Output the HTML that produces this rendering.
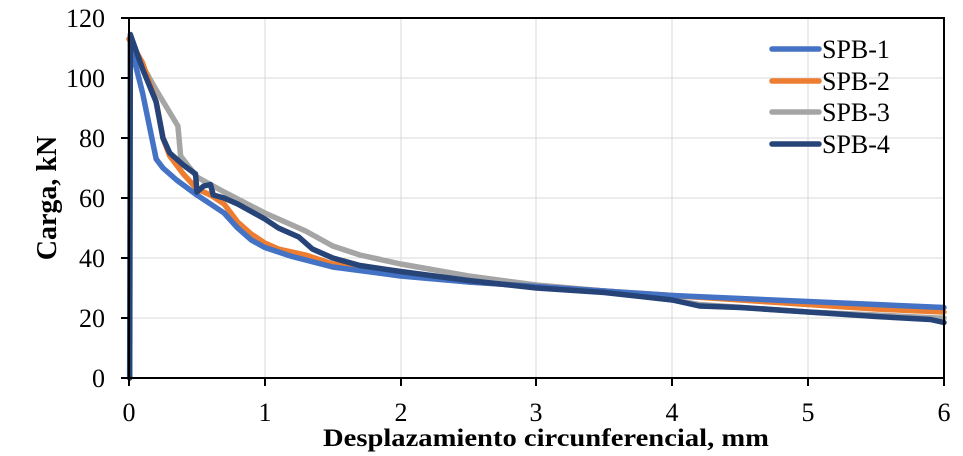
<!DOCTYPE html>
<html><head><meta charset="utf-8"><style>
html,body{margin:0;padding:0;background:#fff;}
svg{display:block;}
text{font-family:"Liberation Serif",serif;fill:#000;}
</style></head><body>
<svg width="963" height="456" viewBox="0 0 963 456" xmlns="http://www.w3.org/2000/svg">
<g stroke="#d9d9d9" stroke-width="1">
<line x1="129" y1="318" x2="944" y2="318"/><line x1="129" y1="258" x2="944" y2="258"/>
<line x1="129" y1="198" x2="944" y2="198"/><line x1="129" y1="138" x2="944" y2="138"/>
<line x1="129" y1="78" x2="944" y2="78"/>
<line x1="265" y1="18" x2="265" y2="378"/><line x1="401" y1="18" x2="401" y2="378"/>
<line x1="536" y1="18" x2="536" y2="378"/><line x1="672" y1="18" x2="672" y2="378"/>
<line x1="808" y1="18" x2="808" y2="378"/>
</g>
<g fill="none" stroke-width="5.5" stroke-linejoin="round" stroke-linecap="round">
<g transform="translate(129,378) scale(135.83,-3)">
<polyline vector-effect="non-scaling-stroke" stroke="#A5A5A5" points="0,113 0.1,104 0.2,96 0.36,84 0.38,74 0.5,67 0.7,62 1,55 1.3,49 1.5,44 1.7,41 2,38 2.5,34 3,31 3.5,29 4,26 4.2,24.5 5,22 5.5,21 5.95,20 6,20"/>
<polyline vector-effect="non-scaling-stroke" stroke="#ED7D31" points="0,113 0.1,105 0.2,92 0.25,80 0.3,74 0.4,68 0.5,63 0.6,61 0.7,58 0.8,52 0.9,48 1,45 1.1,43 1.3,41 1.5,38 2,34.5 2.5,32 3,30.5 3.5,29 4,27.5 4.5,26 5,24.5 5.5,23 6,22"/>
<polyline vector-effect="non-scaling-stroke" stroke="#4472C4" points="0.01,111 0.05,104 0.1,95 0.15,84 0.2,73 0.25,70 0.35,66 0.5,61 0.6,58 0.7,55 0.8,50 0.9,46 1,43.5 1.2,40.5 1.5,37 2,34 2.5,32 3,30.5 3.5,29 4,27.5 4.5,26.5 5,25.5 5.5,24.5 6,23.5"/>
<polyline vector-effect="non-scaling-stroke" stroke="#264478" points="0.005,0 0.01,114.5 0.1,103 0.2,92 0.25,80 0.3,75 0.4,71 0.49,68 0.5,62 0.55,64 0.6,64.5 0.62,61 0.7,60 0.8,58 0.9,55.5 1,53 1.1,50 1.25,47 1.35,43 1.5,40 1.7,37.5 2,35.5 2.5,32.5 3,30 3.5,28.5 4,26 4.2,24 4.5,23.5 5,22 5.5,20.5 5.9,19.5 6,18.5"/>
</g>
</g>
<rect x="129" y="18" width="815" height="360" fill="none" stroke="#000" stroke-width="2"/>
<g stroke="#000" stroke-width="2">
<line x1="121" y1="378" x2="129" y2="378"/><line x1="121" y1="318" x2="129" y2="318"/>
<line x1="121" y1="258" x2="129" y2="258"/><line x1="121" y1="198" x2="129" y2="198"/>
<line x1="121" y1="138" x2="129" y2="138"/><line x1="121" y1="78" x2="129" y2="78"/>
<line x1="121" y1="18" x2="129" y2="18"/>
<line x1="129" y1="378" x2="129" y2="386"/><line x1="265" y1="378" x2="265" y2="386"/>
<line x1="401" y1="378" x2="401" y2="386"/><line x1="536" y1="378" x2="536" y2="386"/>
<line x1="672" y1="378" x2="672" y2="386"/><line x1="808" y1="378" x2="808" y2="386"/>
<line x1="944" y1="378" x2="944" y2="386"/>
</g>
<g font-size="26" text-anchor="end">
<text x="105" y="387">0</text><text x="105" y="327">20</text><text x="105" y="267">40</text>
<text x="105" y="207">60</text><text x="105" y="147">80</text><text x="105" y="87">100</text>
<text x="105" y="27">120</text>
</g>
<g font-size="26" text-anchor="middle">
<text x="129" y="421">0</text><text x="265" y="421">1</text><text x="401" y="421">2</text>
<text x="536" y="421">3</text><text x="672" y="421">4</text><text x="808" y="421">5</text>
<text x="944" y="421">6</text>
</g>
<text x="546" y="446" font-size="25" font-weight="bold" text-anchor="middle" textLength="446" lengthAdjust="spacingAndGlyphs">Desplazamiento circunferencial, mm</text>
<text transform="translate(56,198) rotate(-90)" font-size="28" font-weight="bold" text-anchor="middle">Carga, kN</text>
<g stroke-width="5.5" stroke-linecap="round">
<line x1="772" y1="49" x2="819" y2="49" stroke="#4472C4"/>
<line x1="772" y1="81" x2="819" y2="81" stroke="#ED7D31"/>
<line x1="772" y1="112" x2="819" y2="112" stroke="#A5A5A5"/>
<line x1="772" y1="144" x2="819" y2="144" stroke="#264478"/>
</g>
<g font-size="26">
<text x="822" y="58">SPB-1</text><text x="822" y="90">SPB-2</text>
<text x="822" y="121">SPB-3</text><text x="822" y="153">SPB-4</text>
</g>
</svg>
</body></html>
